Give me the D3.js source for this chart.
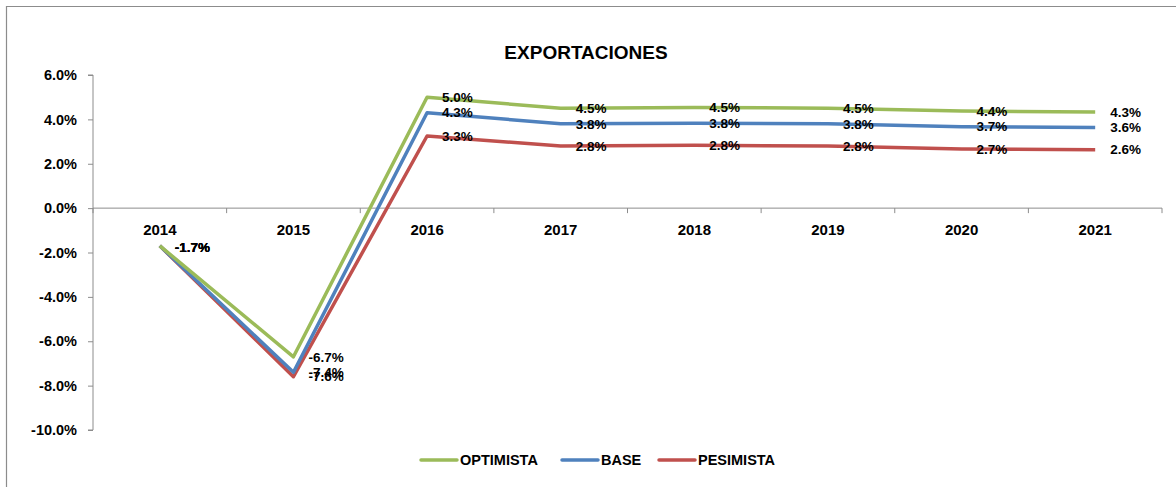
<!DOCTYPE html>
<html>
<head>
<meta charset="utf-8">
<script src="https://cdn.jsdelivr.net/npm/d3@7"></script>
<style>
  body { margin: 0; background: #fff; }
  text { font-family: "Liberation Sans", Arial, sans-serif; font-weight: bold; fill: #000; }
</style>
</head>
<body>
<svg id="chart" width="1176" height="487"></svg>
<script>
const years = ['2014', '2015', '2016', '2017', '2018', '2019', '2020', '2021']
const optimista = [-1.7, -6.7, 5.0, 4.5, 4.54, 4.5, 4.38, 4.33]
const base = [-1.7, -7.4, 4.3, 3.8, 3.83, 3.8, 3.67, 3.63]
const pesimista = [-1.7, -7.6, 3.25, 2.8, 2.83, 2.8, 2.67, 2.63]
const yTicks = [6, 4, 2, 0, -2, -4, -6, -8, -10]
const seriesNames = ['OPTIMISTA', 'BASE', 'PESIMISTA']

const colors = {OPTIMISTA: '#9BBB59', BASE: '#4F81BD', PESIMISTA: '#C0504D'}
const series = [
  {name: 'OPTIMISTA', values: optimista},
  {name: 'BASE', values: base},
  {name: 'PESIMISTA', values: pesimista}
]

const svg = d3.select('#chart')
var margin = {top: 75, right: 14, bottom: 57, left: 93}
var width = 1176, height = 487

// outer frame (right and bottom edges fall outside the picture)
svg.append('path')
  .attr('d', `M6.5,${height} V6.5 H${width}`)
  .attr('fill', 'none').attr('stroke', '#8c8c8c').attr('stroke-width', 1.2)

let xScale = d3.scaleBand().domain(years).range([margin.left, width - margin.right])
let yScale = d3.scaleLinear().domain([-10, 6]).range([height - margin.bottom, margin.top])
const xc = d => xScale(d) + xScale.bandwidth() / 2

svg.append('text')
  .attr('x', 586).attr('y', 59)
  .attr('text-anchor', 'middle')
  .style('font-size', '19px')
  .text('EXPORTACIONES')

// y axis
var yAxis = d3.axisLeft(yScale).tickValues(yTicks).tickSize(5).tickPadding(11)
  .tickFormat(d => d.toFixed(1) + '%')
let yG = svg.append('g').attr('transform', `translate(${margin.left},0)`).call(yAxis)
yG.select('.domain').attr('stroke', '#8c8c8c').attr('d', `M-5,${yScale(6)}H0V${yScale(-10)}H-5`)
yG.selectAll('.tick line').attr('stroke', '#8c8c8c')
yG.selectAll('.tick text').style('font-size', '14.5px').style('font-family', '"Liberation Sans", Arial, sans-serif').attr('fill', '#000')

// x axis at zero, ticks on category boundaries
let xG = svg.append('g').attr('transform', `translate(0,${yScale(0)})`)
xG.append('line')
  .attr('x1', margin.left).attr('x2', width - margin.right)
  .attr('stroke', '#8c8c8c')
xG.selectAll('.xtick').data(years.concat(['end'])).enter().append('line')
  .attr('x1', (d, i) => i < years.length ? xScale(d) : width - margin.right)
  .attr('x2', (d, i) => i < years.length ? xScale(d) : width - margin.right)
  .attr('y1', 0).attr('y2', 5)
  .attr('stroke', '#8c8c8c')
xG.selectAll('.xlab').data(years).enter().append('text')
  .attr('x', d => xc(d)).attr('y', 27)
  .attr('text-anchor', 'middle')
  .style('font-size', '15px')
  .text(d => d)

let line = d3.line().x((d, i) => xc(years[i])).y(d => yScale(d))

// draw lines (pesimista first so optimista is on top like the original)
svg.append('g').selectAll('path').data(series.slice().reverse()).enter().append('path')
  .attr('d', d => line(d.values))
  .attr('fill', 'none')
  .attr('stroke', d => colors[d.name])
  .attr('stroke-width', 3.5)
  .attr('stroke-linejoin', 'round')

// data labels to the right of each point
series.forEach(s => {
  svg.append('g').selectAll('text').data(s.values).enter().append('text')
    .attr('x', (d, i) => xc(years[i]) + 15)
    .attr('y', (d, i) => yScale(d) + (i === 0 ? 1 : 0))
    .attr('dy', '0.35em')
    .style('font-size', '13.5px')
    .text(d => d.toFixed(1) + '%')
})

// legend
const legendPos = {OPTIMISTA: 421, BASE: 562, PESIMISTA: 659}
let lg = svg.append('g').attr('transform', 'translate(0,460)')
seriesNames.forEach(n => {
  lg.append('line')
    .attr('x1', legendPos[n]).attr('x2', legendPos[n] + 36)
    .attr('stroke', colors[n]).attr('stroke-width', 3.5).attr('stroke-linecap', 'round')
  lg.append('text')
    .attr('x', legendPos[n] + 39).attr('dy', '0.35em')
    .style('font-size', '14.5px')
    .text(n)
})
</script>
</body>
</html>
